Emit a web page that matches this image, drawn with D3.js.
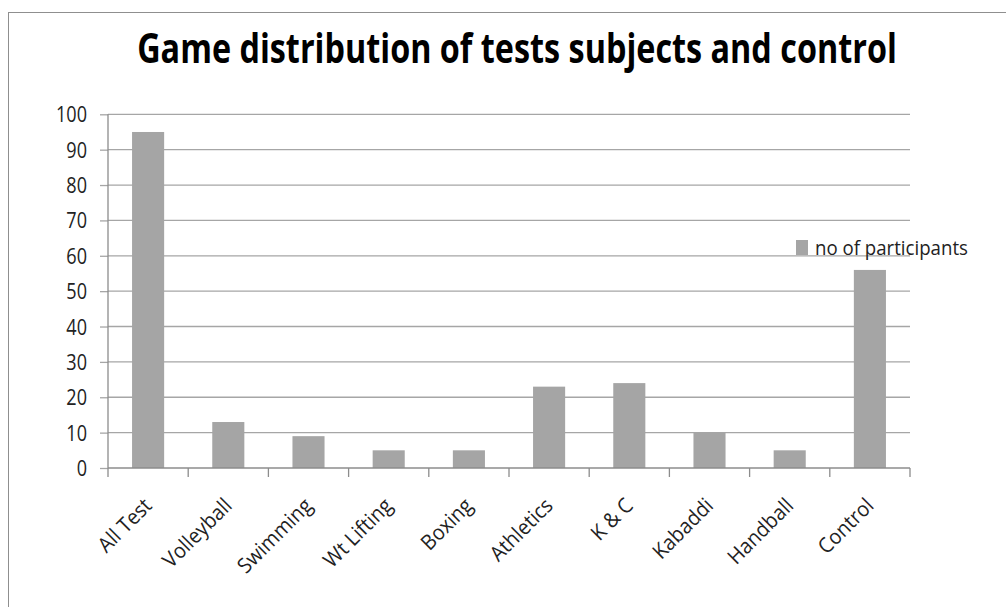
<!DOCTYPE html>
<html>
<head>
<meta charset="utf-8">
<script src="https://cdn.jsdelivr.net/npm/d3@7"></script>
<style>
  html, body { margin: 0; padding: 0; background: #fff; }
  svg { display: block; }
  svg text { font-family: "Open Sans", sans-serif; }
</style>
</head>
<body>
<svg id="chart" width="1006" height="607"></svg>
<script>
// Participants per game group
const categories = ["All Test", "Volleyball", "Swimming", "Wt Lifting", "Boxing",
                    "Athletics", "K & C", "Kabaddi", "Handball", "Control"];
const participants = [95, 13, 9, 5, 5, 23, 24, 10, 5, 56];
const yTicks = [0, 10, 20, 30, 40, 50, 60, 70, 80, 90, 100];
const seriesName = "no of participants";
const chartTitle = "Game distribution of tests subjects and control";

const svg = d3.select("#chart");
const plot = { left: 108, right: 910, top: 114.3, bottom: 468 };
const barColor = "#a5a5a5";
const gridColor = "#a6a6a6";
const axisColor = "#8c8c8c";

// squeeze a text element horizontally by a factor
function condense(sel, k) {
  sel.each(function () {
    const len = this.getComputedTextLength();
    d3.select(this).attr("textLength", len * k).attr("lengthAdjust", "spacingAndGlyphs");
  });
}

// outer chart frame
svg.append("rect")
  .attr("x", 8.5).attr("y", 12.5)
  .attr("width", 1020).attr("height", 620)
  .attr("fill", "none").attr("stroke", "#8f8f8f").attr("stroke-width", 1);

const x = d3.scaleBand().domain(categories).range([plot.left, plot.right]).paddingInner(0.6).paddingOuter(0.3);
const xEdges = d3.scaleLinear().domain([0, categories.length]).range([plot.left, plot.right]);
const y = d3.scaleLinear().domain([0, 100]).range([plot.bottom, plot.top]);

// horizontal gridlines with left tick marks and value labels
const yAxis = svg.append("g")
  .attr("transform", `translate(${plot.left},0)`)
  .call(d3.axisLeft(y).tickValues(yTicks).tickSize(8).tickPadding(13).tickFormat(d3.format("d")));
yAxis.attr("font-family", null).attr("font-size", null);
yAxis.select(".domain").remove();
yAxis.selectAll(".tick line").attr("stroke", gridColor).attr("stroke-width", 1.3);
yAxis.selectAll(".tick text")
  .attr("fill", "#222").style("font-size", "21px").attr("dy", "0.36em");
condense(yAxis.selectAll(".tick text"), 0.86);

svg.append("g")
  .selectAll("line")
  .data(yTicks.filter(d => d > 0))
  .join("line")
  .attr("x1", plot.left).attr("x2", plot.right)
  .attr("y1", d => y(d)).attr("y2", d => y(d))
  .attr("stroke", gridColor).attr("stroke-width", 1.3);

// bars
svg.append("g")
  .selectAll("rect")
  .data(categories.map((c, i) => ({ c, v: participants[i] })))
  .join("rect")
  .attr("x", d => x(d.c))
  .attr("width", x.bandwidth())
  .attr("y", d => y(d.v))
  .attr("height", d => y(0) - y(d.v))
  .attr("fill", barColor);

// axes lines
svg.append("line")
  .attr("x1", plot.left).attr("x2", plot.left)
  .attr("y1", plot.top).attr("y2", plot.bottom)
  .attr("stroke", axisColor).attr("stroke-width", 1.3);
svg.append("line")
  .attr("x1", plot.left).attr("x2", plot.right)
  .attr("y1", plot.bottom).attr("y2", plot.bottom)
  .attr("stroke", axisColor).attr("stroke-width", 1.3);

// category boundary ticks
svg.append("g")
  .selectAll("line")
  .data(d3.range(categories.length + 1))
  .join("line")
  .attr("x1", d => xEdges(d)).attr("x2", d => xEdges(d))
  .attr("y1", plot.bottom).attr("y2", plot.bottom + 9)
  .attr("stroke", axisColor).attr("stroke-width", 1.3);

// rotated category labels
const xl = svg.append("g")
  .selectAll("text")
  .data(categories)
  .join("text")
  .attr("transform", d => `translate(${x(d) + x.bandwidth() / 2 + 5},${plot.bottom + 39}) rotate(-45)`)
  .attr("text-anchor", "end")
  .attr("fill", "#222")
  .style("font-size", "21px")
  .text(d => d);
condense(xl, 0.94);

// title, narrowed to the condensed width of the heading font
const title = svg.append("text")
  .attr("text-anchor", "middle")
  .attr("fill", "#000")
  .style("font-size", "41px").style("font-weight", "700")
  .text(chartTitle);
const titleW = title.node().getComputedTextLength();
title.attr("transform", `translate(517,63) scale(${760 / titleW},1)`);

// legend
svg.append("rect")
  .attr("x", 796).attr("y", 240).attr("width", 12).attr("height", 15)
  .attr("fill", barColor);
const lg = svg.append("text")
  .attr("fill", "#222")
  .style("font-size", "20px")
  .text(seriesName);
const lgW = lg.node().getComputedTextLength();
lg.attr("transform", `translate(815,255) scale(${153 / lgW},1)`);
</script>
</body>
</html>
